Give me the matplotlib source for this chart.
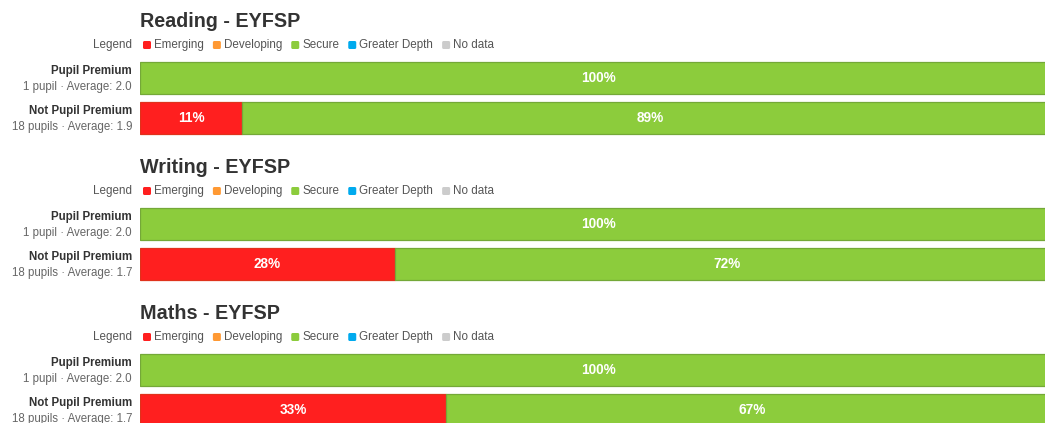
import numpy as np
import matplotlib
matplotlib.use("Agg")
import matplotlib.pyplot as plt
from matplotlib.patches import FancyBboxPatch
import matplotlib.patheffects as pe

plt.rcParams['font.family'] = ['Liberation Sans', 'DejaVu Sans']

# data: pupil counts per attainment band (Emerging = 1, Secure = 2)
subjects = ["Reading - EYFSP", "Writing - EYFSP", "Maths - EYFSP"]
groups = ["Pupil Premium", "Not Pupil Premium"]
bands = ["Emerging", "Developing", "Secure", "Greater Depth", "No data"]
band_colors = ["#ff1f1f", "#ff9933", "#8ccc3c", "#00aaee", "#cccccc"]
band_edges = ["#e0321c", "#e08020", "#74a838", "#0090cc", "#b0b0b0"]
band_scores = [1, 1.5, 2, 3, 0]

pp_counts = [[0, 0, 1, 0, 0], [0, 0, 1, 0, 0], [0, 0, 1, 0, 0]]
not_pp_counts = [[2, 0, 16, 0, 0], [5, 0, 13, 0, 0], [6, 0, 12, 0, 0]]

W, H = 1045, 423
fig = plt.figure(figsize=(W / 100, H / 100), dpi=100)

# overlay axes in pixel units for text + legend
ov = fig.add_axes([0, 0, 1, 1])
ov.set_xlim(0, W)
ov.set_ylim(H, 0)
ov.axis('off')

# bar axes: x in percent, y in pixels (bar track runs past the right edge)
bar_left, bar_w = 140, 918
bx = fig.add_axes([bar_left / W, 0, bar_w / W, 1])
bx.set_xlim(0, 100)
bx.set_ylim(H, 0)
bx.axis('off')

section_step = 146
row_step = 40
bar_h = 32

renderer = fig.canvas.get_renderer()
shadow = [pe.withSimplePatchShadow(offset=(0.5, -0.5), shadow_rgbFace='#000000', alpha=0.25)]
txt_shadow = [pe.SimpleLineShadow(offset=(0.4, -0.4), alpha=0.3), pe.Normal()]


def draw_legend(y):
    ov.text(132, y, "Legend", ha='right', va='center', fontsize=8.4, color='#555555')
    x = 143
    for name, col in zip(bands, band_colors):
        sq = FancyBboxPatch((x, y - 4), 8, 8, boxstyle="round,pad=0,rounding_size=1.5",
                            fc=col, ec='none')
        ov.add_patch(sq)
        t = ov.text(x + 11, y, name, ha='left', va='center', fontsize=8.4, color='#555555')
        bb = t.get_window_extent(renderer)
        x = x + 11 + bb.width + 9


for i, subj in enumerate(subjects):
    top = 10 + section_step * i
    ov.text(140, top + 17, subj, ha='left', va='baseline', fontsize=14.2,
            fontweight='bold', color='#333333')
    draw_legend(top + 35)
    for j, counts in enumerate([pp_counts[i], not_pp_counts[i]]):
        counts = np.array(counts, dtype=float)
        n = int(counts.sum())
        pct = counts / counts.sum() * 100
        avg = (counts * np.array(band_scores)).sum() / counts.sum()
        yc = top + 68 + row_step * j
        # shadow line under the bar
        bx.barh(yc + 1.5, 100, height=bar_h, left=0, color='#d8d8d8', zorder=1)
        left = 0
        for k in range(len(bands)):
            if pct[k] <= 0:
                continue
            bx.barh(yc, pct[k], height=bar_h, left=left, color=band_colors[k],
                    edgecolor=band_edges[k], linewidth=0.9, zorder=2)
            bx.text(left + pct[k] / 2, yc + 0.5, f"{pct[k]:.0f}%", ha='center', va='center',
                    fontsize=9.8, fontweight='bold', color='white', zorder=4)
            left += pct[k]
        ov.text(132, yc - 7, groups[j], ha='right', va='center', fontsize=8.3,
                fontweight='bold', color='#333333')
        word = "pupil" if n == 1 else "pupils"
        ov.text(132, yc + 9, f"{n} {word} \u00b7 Average: {avg:.1f}", ha='right', va='center',
                fontsize=8.3, color='#666666')

fig.savefig("out.png", dpi=100)
